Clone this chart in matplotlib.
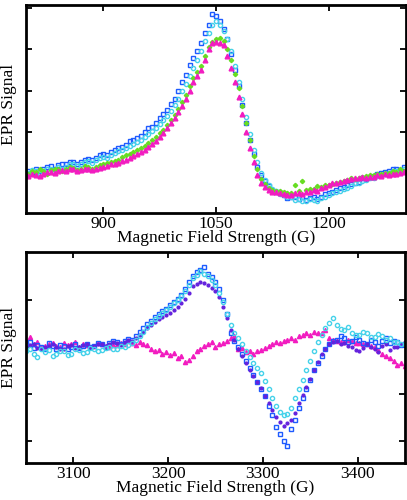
import numpy as np
import matplotlib
matplotlib.use("Agg")
import matplotlib.pyplot as plt

plt.rcParams["font.family"] = ["Liberation Serif", "DejaVu Serif"]

# top panel: field sweep 800-1300 G, 5 G steps (one row = 50 G)
field_top = np.arange(800, 1301, 5)
top_blue = [0.05, 0.0, 0.1, 0.04, 0.08, 0.14, 0.16, 0.1, 0.18, 0.22,
            0.2, 0.26, 0.27, 0.22, 0.26, 0.32, 0.34, 0.3, 0.36, 0.44,
            0.46, 0.42, 0.5, 0.56, 0.6, 0.62, 0.68, 0.76, 0.8, 0.84,
            0.9, 1.0, 1.08, 1.12, 1.22, 1.34, 1.42, 1.52, 1.66, 1.8,
            1.98, 2.2, 2.38, 2.62, 2.8, 2.95, 3.15, 3.4, 3.6, 3.85,
            3.82, 3.7, 3.5, 3.25, 2.9, 2.5, 2.1, 1.65, 1.2, 0.8,
            0.45, 0.15, -0.05, -0.2, -0.32, -0.42, -0.48, -0.5, -0.55, -0.62,
            -0.6, -0.58, -0.64, -0.6, -0.66, -0.62, -0.6, -0.65, -0.58, -0.52,
            -0.5, -0.46, -0.42, -0.36, -0.35, -0.3, -0.28, -0.24, -0.22, -0.14,
            -0.16, -0.1, -0.08, -0.04, 0.0, 0.02, 0.04, 0.08, 0.1, 0.06,
            0.14]
top_cyan = [0.0, 0.06, 0.05, -0.02, 0.04, 0.08, 0.1, 0.06, 0.14, 0.1,
            0.15, 0.2, 0.2, 0.16, 0.22, 0.26, 0.28, 0.24, 0.3, 0.36,
            0.38, 0.36, 0.42, 0.48, 0.52, 0.56, 0.6, 0.66, 0.7, 0.74,
            0.8, 0.88, 0.95, 1.02, 1.08, 1.18, 1.28, 1.38, 1.5, 1.64,
            1.8, 1.98, 2.15, 2.35, 2.55, 2.75, 2.95, 3.2, 3.4, 3.6,
            3.68, 3.6, 3.45, 3.25, 2.95, 2.6, 2.2, 1.8, 1.35, 0.95,
            0.55, 0.25, 0.0, -0.18, -0.3, -0.4, -0.45, -0.52, -0.55, -0.6,
            -0.6, -0.66, -0.65, -0.7, -0.68, -0.64, -0.66, -0.7, -0.62, -0.6,
            -0.55, -0.5, -0.48, -0.44, -0.4, -0.36, -0.32, -0.26, -0.25, -0.2,
            -0.18, -0.14, -0.12, -0.08, -0.06, -0.02, 0.0, 0.04, 0.05, 0.02,
            0.08]
top_green = [-0.02, 0.04, 0.02, 0.08, 0.05, -0.02, 0.06, 0.1, 0.1, 0.04,
             0.08, 0.14, 0.12, 0.06, 0.1, 0.16, 0.14, 0.1, 0.15, 0.18,
             0.2, 0.24, 0.26, 0.28, 0.32, 0.38, 0.42, 0.46, 0.5, 0.56,
             0.6, 0.66, 0.72, 0.8, 0.88, 0.96, 1.05, 1.16, 1.28, 1.4,
             1.55, 1.72, 1.9, 2.1, 2.3, 2.45, 2.6, 2.85, 3.05, 3.18,
             3.25, 3.28, 3.2, 3.0, 2.75, 2.4, 2.05, 1.62, 1.2, 0.8,
             0.4, 0.1, -0.15, -0.28, -0.38, -0.42, -0.45, -0.44, -0.48, -0.5,
             -0.5, -0.3, -0.45, -0.2, -0.42, -0.4, -0.4, -0.32, -0.35, -0.3,
             -0.3, -0.28, -0.25, -0.22, -0.2, -0.18, -0.14, -0.16, -0.12, -0.1,
             -0.08, -0.06, -0.05, -0.02, -0.04, 0.0, 0.0, 0.04, 0.02, 0.08,
             0.05]
top_magenta = [-0.08, -0.02, -0.05, -0.08, -0.02, 0.02, 0.02, 0.0, 0.05, 0.06,
               0.04, 0.08, 0.08, 0.04, 0.06, 0.1, 0.1, 0.06, 0.1, 0.12,
               0.14, 0.16, 0.2, 0.22, 0.24, 0.28, 0.32, 0.36, 0.4, 0.45,
               0.5, 0.56, 0.62, 0.7, 0.78, 0.86, 0.96, 1.08, 1.2, 1.32,
               1.48, 1.62, 1.8, 2.0, 2.2, 2.35, 2.5, 2.75, 3.0, 3.15,
               3.18, 3.16, 3.1, 2.85, 2.55, 2.2, 1.85, 1.42, 1.0, 0.6,
               0.25, -0.05, -0.25, -0.35, -0.42, -0.46, -0.48, -0.5, -0.52, -0.55,
               -0.54, -0.5, -0.5, -0.52, -0.48, -0.46, -0.42, -0.44, -0.38, -0.34,
               -0.3, -0.26, -0.25, -0.22, -0.2, -0.18, -0.16, -0.12, -0.14, -0.1,
               -0.12, -0.1, -0.1, -0.06, -0.08, -0.04, -0.05, -0.02, -0.02, 0.0,
               0.02]

# bottom panel: field sweep 3050-3450 G, 4 G steps (one row = 40 G)
field_bot = np.arange(3050, 3451, 4)
bot_blue = [0.05, 0.1, -0.02, 0.04, 0.0, -0.06, 0.08, 0.02, -0.05, 0.04,
            0.02, -0.04, 0.0, 0.06, -0.02, 0.02, 0.06, 0.0, 0.02, 0.08,
            0.05, 0.0, 0.08, 0.12, 0.1, 0.06, 0.12, 0.16, 0.15, 0.22,
            0.32, 0.4, 0.48, 0.55, 0.62, 0.7, 0.76, 0.8, 0.88, 0.95,
            1.02, 1.1, 1.22, 1.38, 1.5, 1.58, 1.62, 1.7, 1.55, 1.48,
            1.38, 1.22, 1.0, 0.7, 0.3, 0.12, 0.0, -0.15, -0.3, -0.45,
            -0.6, -0.75, -0.9, -1.05, -1.25, -1.45, -1.7, -1.85, -2.0, -2.1,
            -1.75, -1.55, -1.3, -1.1, -0.9, -0.7, -0.5, -0.35, -0.2, -0.05,
            0.05, 0.12, 0.15, 0.22, 0.18, 0.1, 0.12, 0.2, 0.15, 0.08,
            0.05, 0.14, 0.1, 0.02, 0.12, 0.18, 0.08, 0.12, 0.1, 0.04,
            0.05]
bot_purple = [0.0, 0.04, 0.05, -0.02, -0.05, 0.0, 0.02, 0.06, 0.0, -0.04,
              -0.04, 0.02, 0.04, -0.02, 0.0, 0.04, 0.05, 0.0, 0.02, 0.06,
              0.06, 0.02, 0.05, 0.1, 0.08, 0.04, 0.1, 0.14, 0.12, 0.18,
              0.25, 0.32, 0.4, 0.46, 0.52, 0.58, 0.62, 0.68, 0.72, 0.78,
              0.85, 0.92, 1.02, 1.15, 1.28, 1.32, 1.38, 1.35, 1.3, 1.25,
              1.18, 1.05, 0.85, 0.6, 0.35, 0.15, -0.05, -0.2, -0.35, -0.5,
              -0.62, -0.75, -0.88, -1.05, -1.2, -1.35, -1.5, -1.6, -1.68, -1.62,
              -1.55, -1.4, -1.2, -1.02, -0.85, -0.68, -0.5, -0.32, -0.15, -0.05,
              0.05, 0.1, 0.12, 0.06, 0.08, 0.02, 0.0, -0.08, -0.1, -0.02,
              0.05, 0.0, -0.05, -0.12, 0.02, 0.06, -0.08, 0.0, 0.0, 0.06,
              0.1]
bot_cyan = [-0.1, -0.05, -0.15, -0.22, -0.05, -0.12, -0.08, -0.2, -0.15, -0.1,
            -0.1, -0.18, -0.15, -0.05, -0.08, -0.14, -0.12, -0.02, -0.05, -0.1,
            -0.08, -0.02, 0.0, -0.06, -0.05, 0.02, 0.0, 0.04, 0.08, 0.14,
            0.22, 0.32, 0.42, 0.5, 0.58, 0.65, 0.72, 0.78, 0.85, 0.92,
            1.0, 1.08, 1.18, 1.3, 1.45, 1.52, 1.6, 1.55, 1.5, 1.42,
            1.3, 1.15, 0.95, 0.7, 0.45, 0.3, 0.18, 0.05, -0.1, -0.22,
            -0.35, -0.45, -0.55, -0.72, -0.9, -1.1, -1.25, -1.38, -1.45, -1.42,
            -1.3, -1.1, -0.9, -0.7, -0.5, -0.3, -0.1, 0.1, 0.25, 0.4,
            0.5, 0.6, 0.45, 0.38, 0.35, 0.42, 0.3, 0.25, 0.25, 0.32,
            0.28, 0.2, 0.2, 0.26, 0.22, 0.15, 0.18, 0.1, 0.1, 0.05,
            0.05]
bot_magenta = [0.12, 0.2, 0.05, 0.1, 0.0, 0.02, 0.05, 0.08, 0.02, 0.0,
               0.08, 0.04, 0.05, 0.1, 0.0, 0.06, 0.04, 0.0, 0.02, 0.08,
               0.06, 0.02, 0.0, 0.04, 0.03, 0.08, 0.05, 0.12, 0.08, 0.04,
               0.1, 0.06, 0.04, -0.05, -0.1, -0.08, -0.15, -0.12, -0.18, -0.14,
               -0.25, -0.2, -0.32, -0.28, -0.2, -0.1, -0.05, 0.02, 0.05, 0.1,
               0.0, 0.05, 0.08, 0.12, 0.18, 0.22, -0.05, -0.02, -0.12, -0.1,
               -0.15, -0.1, -0.08, -0.02, 0.02, 0.05, 0.1, 0.08, 0.12, 0.15,
               0.18, 0.15, 0.22, 0.25, 0.28, 0.24, 0.32, 0.3, 0.3, 0.35,
               0.18, 0.15, 0.12, 0.1, 0.1, 0.14, 0.12, 0.08, 0.08, 0.05,
               0.05, 0.02, 0.0, -0.08, -0.15, -0.2, -0.25, -0.3, -0.38, -0.35,
               -0.42]

BLUE = "#1e5bff"
CYAN = "#45d2ea"
GREEN = "#66dd22"
MAGENTA = "#f21cc0"
PURPLE = "#6422dd"

fig = plt.figure(figsize=(4.07, 5.0), dpi=100)
ax1 = fig.add_axes([0.0639, 0.574, 0.9337, 0.416])
ax2 = fig.add_axes([0.0639, 0.074, 0.931, 0.422])

ax1.plot(field_top, top_blue, ls="none", marker="s", ms=3.0, mfc="none", mec=BLUE, mew=1.0)
ax1.plot(field_top, top_cyan, ls="none", marker="o", ms=3.0, mfc="none", mec=CYAN, mew=1.0)
ax1.plot(field_top, top_green, ls="none", marker="D", ms=2.2, color=GREEN)
ax1.plot(field_top, top_magenta, ls="none", marker="^", ms=3.4, color=MAGENTA)
ax1.set_xlim(797, 1303)
ax1.set_ylim(-0.98, 4.08)
ax1.set_xticks([900, 1050, 1200])
ax1.set_yticks([1, 2, 3, 4])

ax2.plot(field_bot, bot_magenta, ls="none", marker="^", ms=3.0, color=MAGENTA)
ax2.plot(field_bot, bot_blue, ls="none", marker="s", ms=3.0, mfc="none", mec=BLUE, mew=1.0)
ax2.plot(field_bot, bot_purple, ls="none", marker="o", ms=2.0, color=PURPLE)
ax2.plot(field_bot, bot_cyan, ls="none", marker="o", ms=3.0, mfc="none", mec=CYAN, mew=1.0)
ax2.set_xlim(3050, 3450)
ax2.set_ylim(-2.47, 2.01)
ax2.set_xticks([3100, 3200, 3300, 3400])
ax2.set_yticks([-2, -1, 0, 1])

for ax in (ax1, ax2):
    for sp in ax.spines.values():
        sp.set_linewidth(2.0)
    ax.tick_params(direction="in", top=True, right=True, length=4, width=1.3,
                   labelsize=12.5, pad=2)
    ax.set_yticklabels([])
    ax.set_xlabel("Magnetic Field Strength (G)", fontsize=12.5, labelpad=-1)
    ax.set_ylabel("EPR Signal", fontsize=12.5)

ax1.yaxis.set_label_coords(-0.024, 0.52)
ax2.yaxis.set_label_coords(-0.024, 0.547)

fig.savefig("out.png", dpi=100)
